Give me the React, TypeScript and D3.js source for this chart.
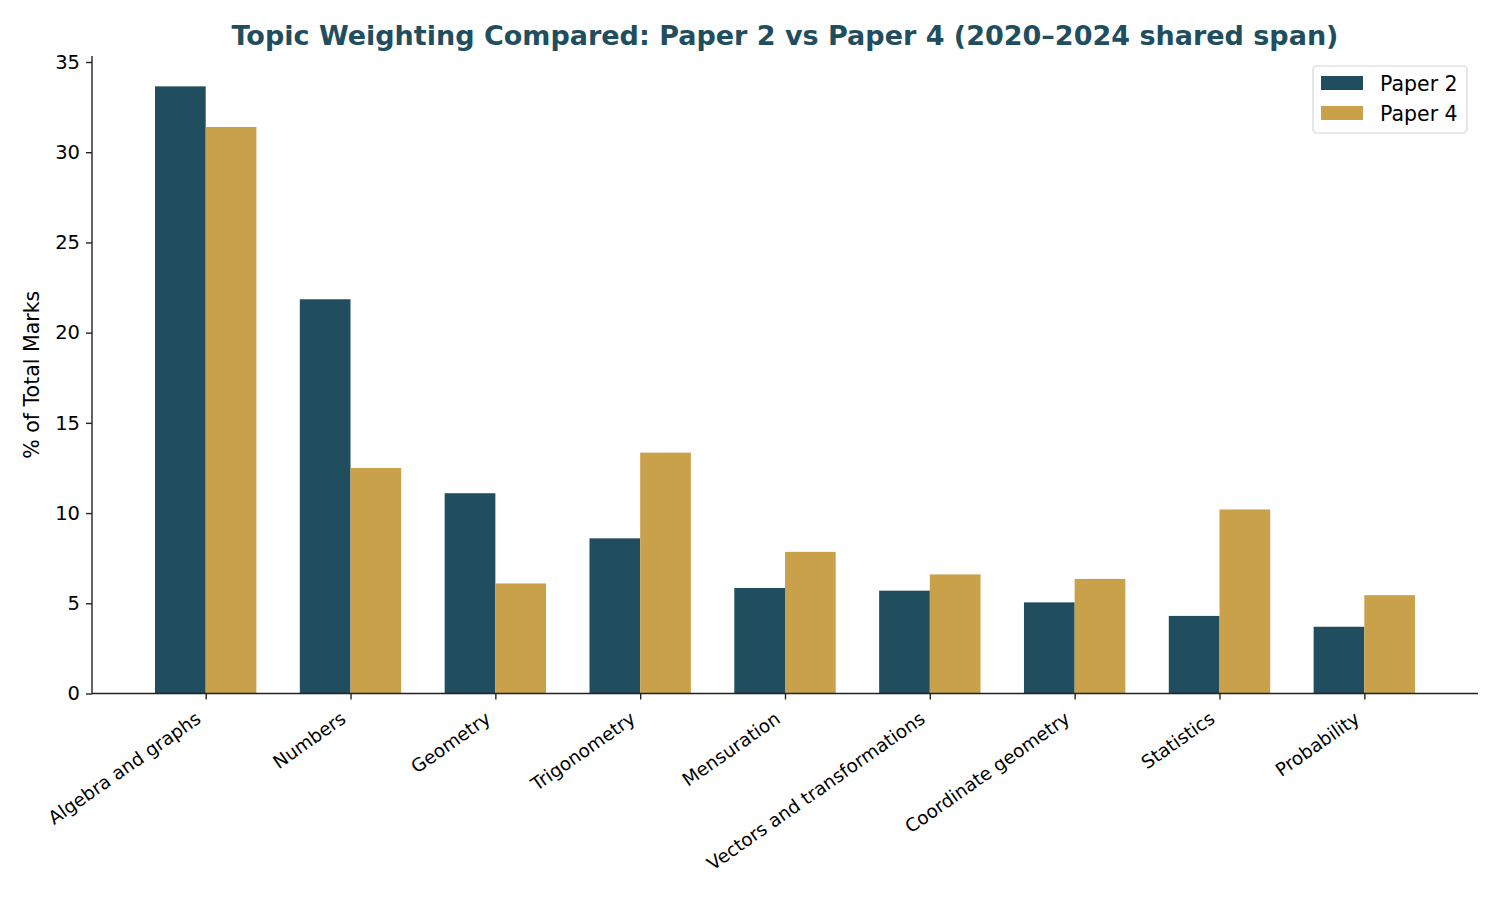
import React, { useEffect, useRef } from 'react';
import * as d3 from 'd3';

const topics = [
  'Algebra and graphs',
  'Numbers',
  'Geometry',
  'Trigonometry',
  'Mensuration',
  'Vectors and transformations',
  'Coordinate geometry',
  'Statistics',
  'Probability',
];
const paper2 = [33.65, 21.85, 11.1, 8.6, 5.85, 5.7, 5.05, 4.3, 3.7];
const paper4 = [31.4, 12.5, 6.1, 13.35, 7.85, 6.6, 6.35, 10.2, 5.45];
const yTicks = [0, 5, 10, 15, 20, 25, 30, 35];

const COLOR_P2 = '#214e5e';
const COLOR_P4 = '#c9a14b';
const FONT = 'DejaVu Sans, sans-serif';

const App: React.FC = () => {
  const ref = useRef<SVGSVGElement>(null);

  useEffect(() => {
    if (!ref.current) return;
    const svg = d3.select(ref.current);
    svg.selectAll('*').remove();

    const left = 92, right = 1478, top = 56, bottom = 693.5;

    const x = d3.scaleLinear().domain([-0.785, topics.length - 1 + 0.785]).range([left, right]);
    const y = d3.scaleLinear().domain([0, 35]).range([bottom, 62]);
    const bw = x(0.35) - x(0);

    // Titre
    svg.append('text')
      .attr('x', 785).attr('y', 45)
      .attr('text-anchor', 'middle')
      .attr('fill', COLOR_P2)
      .style('font-family', FONT)
      .style('font-size', '27px')
      .style('font-weight', 'bold')
      .text('Topic Weighting Compared: Paper 2 vs Paper 4 (2020–2024 shared span)');

    // Barres
    const g = svg.append('g');
    g.selectAll('.p2').data(paper2).enter().append('rect')
      .attr('x', (_, i) => x(i) - bw)
      .attr('width', bw)
      .attr('y', d => y(d))
      .attr('height', d => bottom - y(d))
      .attr('fill', COLOR_P2);
    g.selectAll('.p4').data(paper4).enter().append('rect')
      .attr('x', (_, i) => x(i))
      .attr('width', bw)
      .attr('y', d => y(d))
      .attr('height', d => bottom - y(d))
      .attr('fill', COLOR_P4);

    // Axe Y
    const yAxis = svg.append('g')
      .attr('transform', `translate(${left},0)`)
      .call(d3.axisLeft(y).tickValues(yTicks).tickSize(6).tickPadding(6).tickSizeOuter(0));
    yAxis.select('.domain').attr('stroke', '#222').attr('stroke-width', 1.4).attr('d', `M0,${top}V${bottom}`);
    yAxis.selectAll('.tick line').attr('stroke', '#222').attr('stroke-width', 1.4);
    yAxis.selectAll('.tick text')
      .attr('fill', '#000')
      .style('font-family', FONT)
      .style('font-size', '19.5px');

    // Axe X
    const xAxis = svg.append('g')
      .attr('transform', `translate(0,${bottom})`)
      .call(d3.axisBottom(x).tickValues(d3.range(topics.length)).tickSize(6).tickSizeOuter(0)
        .tickFormat((d) => topics[d as number]));
    xAxis.select('.domain').attr('stroke', '#222').attr('stroke-width', 1.4).attr('d', `M${left},0H${right}`);
    xAxis.selectAll('.tick line').attr('stroke', '#222').attr('stroke-width', 1.4);
    xAxis.selectAll('.tick text')
      .attr('fill', '#000')
      .attr('text-anchor', 'end')
      .attr('dy', null)
      .attr('y', 0)
      .attr('transform', 'translate(-4,28) rotate(-35)')
      .style('font-family', FONT)
      .style('font-size', '18.4px');

    // Titre de l'axe Y
    svg.append('text')
      .attr('transform', `translate(39,${(top + bottom) / 2}) rotate(-90)`)
      .attr('text-anchor', 'middle')
      .attr('fill', '#000')
      .style('font-family', FONT)
      .style('font-size', '20.5px')
      .text('% of Total Marks');

    // Légende
    const lg = svg.append('g').attr('transform', 'translate(1313,66)');
    lg.append('rect')
      .attr('width', 154).attr('height', 67).attr('rx', 4)
      .attr('fill', '#fff').attr('stroke', '#d5d5d5').attr('stroke-width', 1.2);
    [['Paper 2', COLOR_P2], ['Paper 4', COLOR_P4]].forEach(([label, c], i) => {
      lg.append('rect').attr('x', 8).attr('y', 10 + i * 30).attr('width', 42).attr('height', 14).attr('fill', c);
      lg.append('text').attr('x', 67).attr('y', 25 + i * 30)
        .attr('fill', '#000')
        .style('font-family', FONT)
        .style('font-size', '20.5px')
        .text(label);
    });
  }, []);

  return <svg ref={ref} width={1500} height={900} style={{ display: 'block', margin: -8, background: '#fff' }} />;
};

export default App;
